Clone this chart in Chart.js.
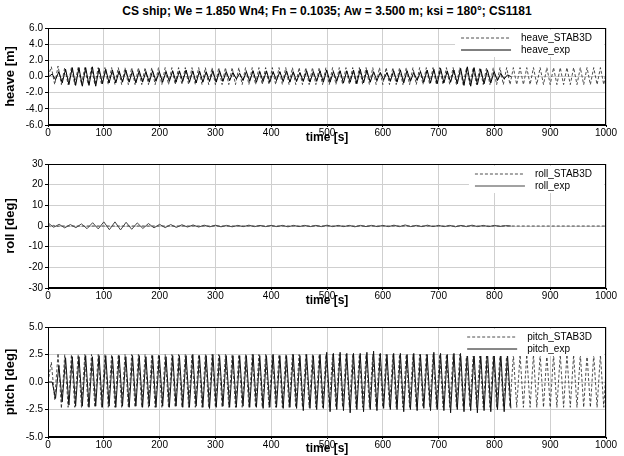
<!DOCTYPE html>
<html>
<head>
<meta charset="utf-8">
<script src="https://cdn.jsdelivr.net/npm/chart.js@4.4.1/dist/chart.umd.min.js"></script>
<style>
  body { margin: 0; width: 624px; height: 456px; background: #fff; overflow: hidden; font-family: "Liberation Sans", Arial, sans-serif; }
  .panel { position: absolute; left: 0; width: 624px; }
  #title { position: absolute; left: 48px; width: 558px; top: 4px; text-align: center; font-weight: bold; font-size: 12px; }
</style>
</head>
<body>
<div id="title">CS ship; We = 1.850 Wn4; Fn = 0.1035; Aw = 3.500 m; ksi = 180°; CS1181</div>
<div class="panel" style="top:20px;height:125px"><canvas id="heave"></canvas></div>
<div class="panel" style="top:156px;height:152px"><canvas id="roll"></canvas></div>
<div class="panel" style="top:319px;height:137px"><canvas id="pitch"></canvas></div>
<script>
// time grid of the STAB3D runs (peaks/troughs of the encounter wave)
const stabT = [
  0, 6, 12, 18, 24, 30, 36, 42, 48, 54,
  60, 66, 72, 78, 84, 90, 96, 102, 108, 114,
  120, 126, 132, 138, 144, 150, 156, 162, 168, 174,
  180, 186, 192, 198, 204, 210, 216, 222, 228, 234,
  240, 246, 252, 258, 264, 270, 276, 282, 288, 294,
  300, 306, 312, 318, 324, 330, 336, 342, 348, 354,
  360, 366, 372, 378, 384, 390, 396, 402, 408, 414,
  420, 426, 432, 438, 444, 450, 456, 462, 468, 474,
  480, 486, 492, 498, 504, 510, 516, 522, 528, 534,
  540, 546, 552, 558, 564, 570, 576, 582, 588, 594,
  600, 606, 612, 618, 624, 630, 636, 642, 648, 654,
  660, 666, 672, 678, 684, 690, 696, 702, 708, 714,
  720, 726, 732, 738, 744, 750, 756, 762, 768, 774,
  780, 786, 792, 798, 804, 810, 816, 822, 828, 834,
  840, 846, 852, 858, 864, 870, 876, 882, 888, 894,
  900, 906, 912, 918, 924, 930, 936, 942, 948, 954,
  960, 966, 972, 978, 984, 990, 996, 1000
];

// time grid of the experiment (ends ~830 s)
const expT = [
  1.5, 7.5, 13.5, 19.5, 25.5, 31.5, 37.5, 43.5, 49.5, 55.5,
  61.5, 67.5, 73.5, 79.5, 85.5, 91.5, 97.5, 103.5, 109.5, 115.5,
  121.5, 127.5, 133.5, 139.5, 145.5, 151.5, 157.5, 163.5, 169.5, 175.5,
  181.5, 187.5, 193.5, 199.5, 205.5, 211.5, 217.5, 223.5, 229.5, 235.5,
  241.5, 247.5, 253.5, 259.5, 265.5, 271.5, 277.5, 283.5, 289.5, 295.5,
  301.5, 307.5, 313.5, 319.5, 325.5, 331.5, 337.5, 343.5, 349.5, 355.5,
  361.5, 367.5, 373.5, 379.5, 385.5, 391.5, 397.5, 403.5, 409.5, 415.5,
  421.5, 427.5, 433.5, 439.5, 445.5, 451.5, 457.5, 463.5, 469.5, 475.5,
  481.5, 487.5, 493.5, 499.5, 505.5, 511.5, 517.5, 523.5, 529.5, 535.5,
  541.5, 547.5, 553.5, 559.5, 565.5, 571.5, 577.5, 583.5, 589.5, 595.5,
  601.5, 607.5, 613.5, 619.5, 625.5, 631.5, 637.5, 643.5, 649.5, 655.5,
  661.5, 667.5, 673.5, 679.5, 685.5, 691.5, 697.5, 703.5, 709.5, 715.5,
  721.5, 727.5, 733.5, 739.5, 745.5, 751.5, 757.5, 763.5, 769.5, 775.5,
  781.5, 787.5, 793.5, 799.5, 805.5, 811.5, 817.5, 823.5, 829.5
];

const heaveStab = [
  0, 1.2, -1.0, 1.3, -1.0, 1.1, -1.0, 1.1, -1.0, 1.1,
  -1.0, 1.1, -1.0, 1.1, -1.0, 1.1, -1.0, 1.1, -1.0, 1.1,
  -1.0, 1.1, -1.0, 1.1, -1.0, 1.1, -1.0, 1.1, -1.0, 1.1,
  -1.0, 1.1, -1.0, 1.1, -1.0, 1.1, -1.0, 1.1, -1.0, 1.1,
  -1.0, 1.1, -1.0, 1.1, -1.0, 1.1, -1.0, 1.1, -1.0, 1.1,
  -1.0, 1.1, -1.0, 1.1, -1.0, 1.1, -1.0, 1.1, -1.0, 1.1,
  -1.0, 1.1, -1.0, 1.1, -1.0, 1.1, -1.0, 1.1, -1.0, 1.1,
  -1.0, 1.1, -1.0, 1.1, -1.0, 1.1, -1.0, 1.1, -1.0, 1.1,
  -1.0, 1.1, -1.0, 1.1, -1.0, 1.1, -1.0, 1.1, -1.0, 1.1,
  -1.0, 1.1, -1.0, 1.1, -1.0, 1.1, -1.0, 1.1, -1.0, 1.1,
  -1.0, 1.1, -1.0, 1.1, -1.0, 1.1, -1.0, 1.1, -1.0, 1.1,
  -1.0, 1.1, -1.0, 1.1, -1.0, 1.1, -1.0, 1.1, -1.0, 1.1,
  -1.0, 1.1, -1.0, 1.1, -1.0, 1.1, -1.0, 1.1, -1.0, 1.1,
  -1.0, 1.1, -1.0, 1.1, -1.0, 1.1, -1.0, 1.1, -1.0, 1.1,
  -1.0, 1.1, -1.0, 1.1, -1.0, 1.1, -1.0, 1.1, -1.0, 1.1,
  -1.0, 1.1, -1.0, 1.1, -1.0, 1.1, -1.0, 1.1, -1.0, 1.1,
  -1.0, 1.1, -1.0, 1.1, -1.0, 1.1, -1.0, 0.5
];

const heaveExp = [
  0.0, 0.3, -0.4, 0.6, -0.8, 0.9, -1.0, 1.1, -1.1, 1.1,
  -1.2, 1.1, -1.1, 1.2, -1.2, 1.0, -0.9, 0.9, -0.8, 0.8,
  -0.8, 0.7, -0.7, 0.8, -0.7, 0.7, -0.8, 0.7, -0.7, 0.6,
  -0.7, 0.7, -0.6, 0.6, -0.7, 0.6, -0.6, 0.7, -0.7, 0.7,
  -0.6, 0.8, -0.7, 0.7, -0.8, 0.7, -0.7, 0.6, -0.6, 0.7,
  -0.7, 0.7, -0.6, 0.6, -0.5, 0.5, -0.3, 0.4, -0.5, 0.6,
  -0.6, 0.7, -0.7, 0.6, -0.6, 0.7, -0.7, 0.6, -0.5, 0.6,
  -0.6, 0.7, -0.7, 0.6, -0.6, 0.5, -0.6, 0.7, -0.7, 0.6,
  -0.6, 0.7, -0.7, 0.8, -0.7, 0.6, -0.6, 0.7, -0.8, 0.7,
  -0.7, 0.8, -0.9, 0.9, -0.8, 0.8, -0.7, 0.6, -0.5, 0.5,
  -0.4, 0.5, -0.6, 0.7, -0.7, 0.8, -0.8, 0.7, -0.6, 0.5,
  -0.5, 0.6, -0.7, 0.8, -0.8, 0.9, -0.9, 1.0, -0.8, 0.7,
  -0.7, 0.8, -0.9, 1.0, -1.1, 1.2, -1.2, 1.1, -1.0, 0.9,
  -0.9, 0.8, -0.8, 0.6, -0.5, 0.4, -0.3, 0.2, 0.0
];

const pitchStab = [
  0, 1.8, -1.6, 2.6, -2.4, 2.5, -2.3, 2.5, -2.3, 2.5,
  -2.3, 2.5, -2.3, 2.5, -2.3, 2.5, -2.3, 2.5, -2.3, 2.5,
  -2.3, 2.5, -2.3, 2.5, -2.3, 2.5, -2.3, 2.5, -2.3, 2.5,
  -2.3, 2.5, -2.3, 2.5, -2.3, 2.5, -2.3, 2.5, -2.3, 2.5,
  -2.3, 2.5, -2.3, 2.5, -2.3, 2.5, -2.3, 2.5, -2.3, 2.5,
  -2.3, 2.5, -2.3, 2.5, -2.3, 2.5, -2.3, 2.5, -2.3, 2.5,
  -2.3, 2.5, -2.3, 2.5, -2.3, 2.5, -2.3, 2.5, -2.3, 2.5,
  -2.3, 2.5, -2.3, 2.5, -2.3, 2.5, -2.3, 2.5, -2.3, 2.5,
  -2.3, 2.5, -2.3, 2.5, -2.3, 2.5, -2.3, 2.5, -2.3, 2.5,
  -2.3, 2.5, -2.3, 2.5, -2.3, 2.5, -2.3, 2.5, -2.3, 2.5,
  -2.3, 2.5, -2.3, 2.5, -2.3, 2.5, -2.3, 2.5, -2.3, 2.5,
  -2.3, 2.5, -2.3, 2.5, -2.3, 2.5, -2.3, 2.5, -2.3, 2.5,
  -2.3, 2.5, -2.3, 2.5, -2.3, 2.5, -2.3, 2.5, -2.3, 2.5,
  -2.3, 2.5, -2.3, 2.5, -2.3, 2.5, -2.3, 2.5, -2.3, 2.5,
  -2.3, 2.5, -2.3, 2.5, -2.3, 2.5, -2.3, 2.5, -2.3, 2.5,
  -2.3, 2.5, -2.3, 2.5, -2.3, 2.5, -2.3, 2.5, -2.3, 2.5,
  -2.3, 2.5, -2.3, 2.5, -2.3, 2.5, -2.3, 1.0
];

const pitchExp = [
  0.0, 0.0, -1.5, 1.5, -1.8, 2.2, -2.1, 2.3, -2.2, 2.3,
  -2.2, 2.4, -2.3, 2.3, -2.2, 2.4, -2.3, 2.4, -2.2, 2.3,
  -2.3, 2.4, -2.2, 2.3, -2.3, 2.4, -2.2, 2.4, -2.3, 2.3,
  -2.2, 2.4, -2.3, 2.4, -2.2, 2.3, -2.3, 2.4, -2.2, 2.4,
  -2.3, 2.4, -2.3, 2.5, -2.2, 2.4, -2.3, 2.4, -2.4, 2.5,
  -2.3, 2.4, -2.2, 2.4, -2.3, 2.4, -2.3, 2.4, -2.2, 2.4,
  -2.3, 2.5, -2.3, 2.4, -2.4, 2.4, -2.3, 2.5, -2.3, 2.4,
  -2.4, 2.4, -2.3, 2.5, -2.4, 2.4, -2.6, 2.5, -2.4, 2.4,
  -2.5, 2.5, -2.4, 2.7, -2.7, 2.6, -2.5, 2.7, -2.6, 2.6,
  -2.8, 2.6, -2.5, 2.6, -2.7, 2.7, -2.5, 2.8, -2.6, 2.6,
  -2.4, 2.5, -2.5, 2.6, -2.5, 2.6, -2.7, 2.5, -2.5, 2.6,
  -2.6, 2.5, -2.4, 2.5, -2.6, 2.7, -2.5, 2.6, -2.6, 2.5,
  -2.8, 2.6, -2.5, 2.6, -2.7, 2.7, -2.6, 2.6, -2.8, 2.5,
  -2.6, 2.8, -2.7, 2.6, -2.5, 2.6, -2.7, 2.5, -2.4
];

// roll: longer natural period, excited early and decaying
const rollExpT = [
  0, 10, 20, 30, 40, 50, 60, 70, 80, 90,
  100, 110, 120, 130, 140, 150, 160, 170, 180, 190,
  200, 210, 220, 230, 240, 250, 260, 270, 280, 290,
  300, 310, 320, 330, 340, 350, 360, 370, 380, 390,
  400, 410, 420, 430, 440, 450, 460, 470, 480, 490,
  500, 510, 520, 530, 540, 550, 560, 570, 580, 590,
  600, 610, 620, 630, 640, 650, 660, 670, 680, 690,
  700, 710, 720, 730, 740, 750, 760, 770, 780, 790,
  800, 810, 820, 830
];
const rollExp = [
  1.5, -0.6, 0.8, -0.9, 0.7, -0.8, 1.0, -1.3, 1.6, -1.4,
  2.0, -1.8, 2.0, -1.9, 1.8, -1.6, 1.5, -1.2, 1.2, -0.9,
  0.8, -0.8, 0.7, -0.7, 0.6, -0.5, 0.5, -0.5, 0.4, -0.4,
  0.4, -0.4, 0.3, -0.4, 0.3, -0.3, 0.4, -0.3, 0.3, -0.3,
  0.3, -0.3, 0.3, -0.4, 0.3, -0.3, 0.3, -0.3, 0.3, -0.3,
  0.4, -0.3, 0.3, -0.3, 0.3, -0.4, 0.3, -0.3, 0.3, -0.3,
  0.3, -0.3, 0.4, -0.3, 0.5, -0.3, 0.3, -0.3, 0.4, -0.3,
  0.3, -0.3, 0.3, -0.4, 0.3, -0.3, 0.4, -0.3, 0.3, -0.3,
  0.3, -0.2, 0.2, 0.0
];
const rollStabT = [0, 5, 10, 15, 20, 1000];
const rollStab = [0.6, -0.4, 0.3, -0.2, 0, 0];

const xTicks = [0, 100, 200, 300, 400, 500, 600, 700, 800, 900, 1000];

const pts = (t, v) => v.map((y, i) => ({ x: t[i], y }));

// frame + legend drawn inside the plot box, top right
const boxLegend = {
  id: 'boxLegend',
  afterDatasetsDraw(chart) {
    const { ctx, chartArea: a } = chart;
    ctx.save();
    ctx.font = '10px "Liberation Sans", Arial';
    const sets = chart.data.datasets;
    const w = Math.max(...sets.map(d => ctx.measureText(d.label).width));
    const tx = a.right - 14 - w;
    ctx.fillStyle = '#fff';
    ctx.fillRect(tx - 66, a.top + 2, a.right - tx + 64, 27);
    sets.forEach((d, i) => {
      const y = a.top + 10 + i * 12;
      ctx.beginPath();
      ctx.setLineDash(d.borderDash || []);
      ctx.strokeStyle = d.borderColor;
      ctx.lineWidth = d.borderWidth;
      ctx.moveTo(tx - 60, y);
      ctx.lineTo(tx - 10, y);
      ctx.stroke();
      ctx.setLineDash([]);
      ctx.fillStyle = '#000';
      ctx.textBaseline = 'middle';
      ctx.fillText(d.label, tx, y);
    });
    ctx.strokeStyle = '#000';
    ctx.lineWidth = 1;
    ctx.strokeRect(a.left + 0.5, a.top + 0.5, a.right - a.left - 1, a.bottom - a.top - 1);
    ctx.restore();
  }
};

function makePanel(id, yTitle, yMin, yMax, yStep, dec, xh, stab, exp) {
  return new Chart(document.getElementById(id), {
    type: 'line',
    data: {
      datasets: [
        { label: stab.label, data: stab.data, borderColor: '#222', borderWidth: 0.8, borderDash: [3, 2], order: 1 },
        { label: exp.label, data: exp.data, borderColor: exp.color, borderWidth: 1, order: 0 }
      ]
    },
    options: {
      animation: false,
      responsive: true,
      maintainAspectRatio: false,
      layout: { padding: { top: 6, right: 18, left: 3, bottom: 0 } },
      elements: { point: { radius: 0 }, line: { tension: 0 } },
      plugins: { legend: { display: false }, tooltip: { enabled: false } },
      scales: {
        x: {
          type: 'linear', min: 0, max: 1000,
          afterBuildTicks: s => { s.ticks = xTicks.map(v => ({ value: v })); },
          ticks: { color: '#000', font: { size: 10 }, padding: 0, maxRotation: 0, callback: v => String(v) },
          grid: { color: '#cfcfcf', tickLength: 2, tickColor: '#000' },
          border: { color: '#000' },
          title: { display: true, text: 'time [s]', color: '#000', font: { size: 12, weight: 'bold' }, padding: 0 },
          afterFit: s => { s.height = xh; }
        },
        y: {
          min: yMin, max: yMax,
          ticks: { stepSize: yStep, color: '#000', font: { size: 10 }, padding: 2, callback: v => v.toFixed(dec) },
          grid: { color: '#cfcfcf', tickLength: 3, tickColor: '#000' },
          border: { color: '#000' },
          title: { display: true, text: yTitle, color: '#000', font: { size: 13, weight: 'bold' }, padding: 0 },
          afterFit: s => { s.width = 45; }
        }
      }
    },
    plugins: [boxLegend]
  });
}

makePanel('heave', 'heave [m]', -6, 6, 2, 1, 20,
  { label: 'heave_STAB3D', data: pts(stabT, heaveStab) },
  { label: 'heave_exp', data: pts(expT, heaveExp), color: '#000' });

makePanel('roll', 'roll [deg]', -30, 30, 10, 0, 20,
  { label: 'roll_STAB3D', data: pts(rollStabT, rollStab) },
  { label: 'roll_exp', data: pts(rollExpT, rollExp), color: '#444' });

makePanel('pitch', 'pitch [deg]', -5, 5, 2.5, 1, 19,
  { label: 'pitch_STAB3D', data: pts(stabT, pitchStab) },
  { label: 'pitch_exp', data: pts(expT, pitchExp), color: '#111' });
</script>
</body>
</html>
